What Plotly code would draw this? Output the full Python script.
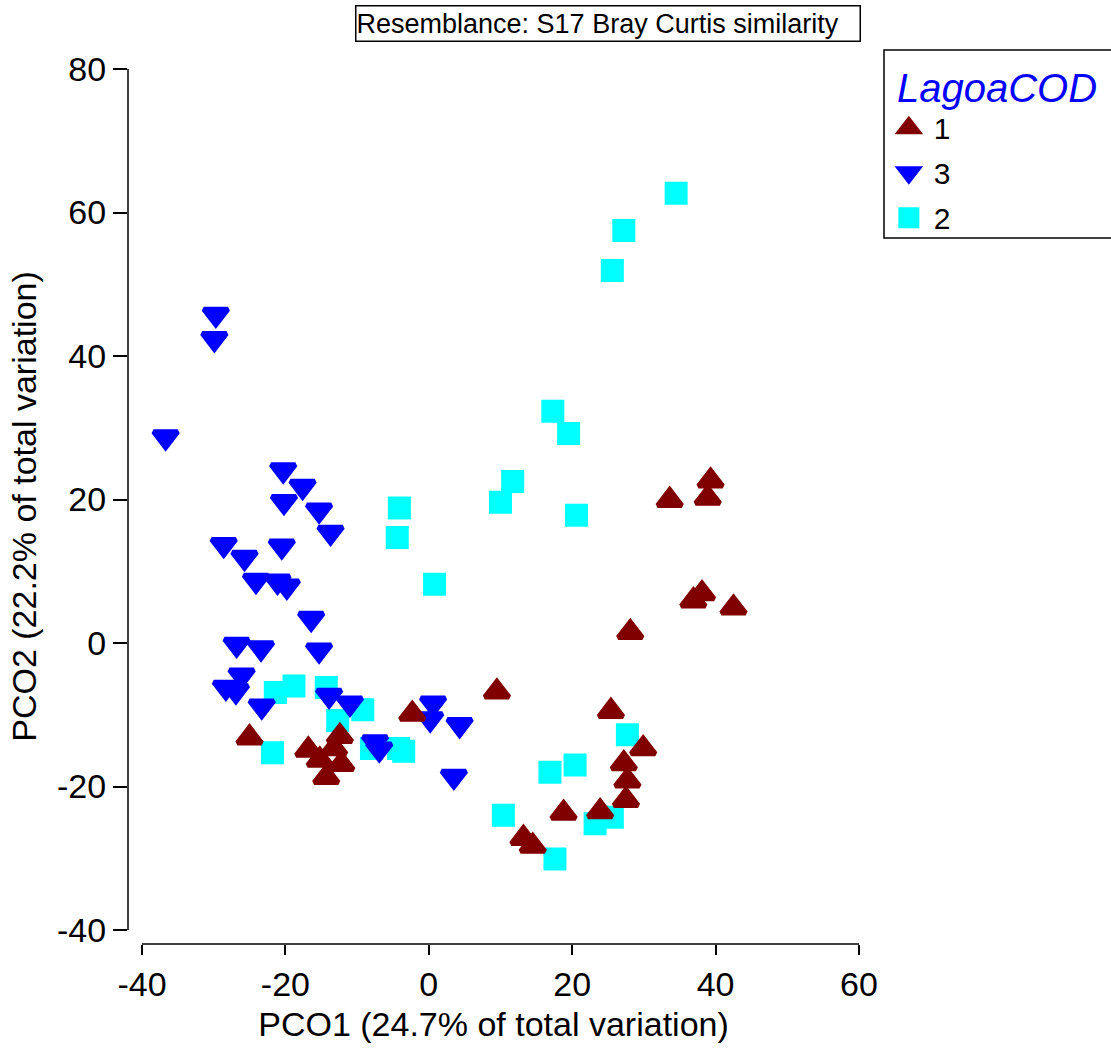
import plotly.graph_objects as go

# PCO ordination scores, grouped by LagoaCOD
g1_x = [-2.3, -25.0, -16.8, -15.2, -13.2, -12.2, -14.3, -12.4, 9.5, 13.2, 14.5, 18.8,
        23.9, 25.4, 27.2, 29.9, 27.7, 27.5, 28.1, 36.9, 38.1, 42.5, 33.6, 39.3, 38.9]
g1_y = [-9.9, -13.2, -14.9, -16.3, -14.7, -16.9, -18.7, -13.0, -6.8, -27.2, -28.3, -23.7,
        -23.5, -9.5, -16.8, -14.7, -19.2, -21.9, 1.5, 5.9, 6.9, 4.9, 19.9, 22.6, 20.2]

g3_x = [-29.7, -29.9, -36.7, -20.3, -17.6, -20.2, -15.3, -13.7, -28.6, -25.7, -20.5, -24.1,
        -21.1, -19.8, -16.4, -26.8, -23.4, -15.3, -26.1, -28.3, -26.9, -23.3, -13.9, -11.0,
        -7.5, -6.9, 0.6, 0.2, 4.3, 3.5]
g3_y = [45.8, 42.4, 28.7, 24.1, 21.8, 19.7, 18.5, 15.4, 13.7, 11.9, 13.5, 8.7,
        8.6, 7.9, 3.4, -0.2, -0.7, -1.0, -4.5, -6.2, -6.7, -8.8, -7.3, -8.4,
        -13.8, -14.8, -8.4, -10.6, -11.4, -18.6]

g2_x = [34.5, 27.2, 25.6, 17.3, 19.5, 11.7, 10.0, 20.6, -4.1, -4.4, 0.8,
        -21.4, -18.8, -14.3, -9.2, -12.7, -21.8, -8.0, -4.2, -3.5,
        27.7, 20.4, 16.9, 10.4, 23.2, 25.6, 17.6]
g2_y = [62.7, 57.5, 51.9, 32.3, 29.2, 22.5, 19.6, 17.8, 18.8, 14.7, 8.2,
        -6.9, -6.0, -6.2, -9.3, -10.8, -15.3, -14.7, -14.7, -15.1,
        -12.8, -17.0, -18.0, -24.0, -25.2, -24.3, -30.1]

x_ticks = [-40, -20, 0, 20, 40, 60]
y_ticks = [-40, -20, 0, 20, 40, 60, 80]

FONT = "Arial, Liberation Sans, sans-serif"

fig = go.Figure()

# symbols get a same-colour outline so the legend swatches stay large
fig.add_trace(go.Scatter(
    x=g2_x, y=g2_y, mode="markers", name="2", legendrank=3, legendgroup="g2",
    marker=dict(symbol="square", size=18, color="#00FFFF", line=dict(width=5, color="#00FFFF")),
    cliponaxis=False))
fig.add_trace(go.Scatter(
    x=g3_x, y=g3_y, mode="markers", name="3", legendrank=2, legendgroup="g3",
    marker=dict(symbol="triangle-down", size=21, color="#0000FF", line=dict(width=5, color="#0000FF")),
    cliponaxis=False))
fig.add_trace(go.Scatter(
    x=g1_x, y=g1_y, mode="markers", name="1", legendrank=1, legendgroup="g1",
    marker=dict(symbol="triangle-up", size=21, color="#800000", line=dict(width=5, color="#800000")),
    cliponaxis=False))

# detached axis lines spanning only the tick range
fig.add_shape(type="line", xref="x", yref="paper", x0=x_ticks[0], x1=x_ticks[-1], y0=0, y1=0,
              line=dict(color="black", width=1.5))
fig.add_shape(type="line", xref="paper", yref="y", x0=0, x1=0, y0=y_ticks[0], y1=y_ticks[-1],
              line=dict(color="black", width=1.5))

# legend frame, open to the right edge of the page
fig.add_shape(type="rect", xref="paper", yref="paper",
              x0=1.0342, x1=1.36, y0=0.8069, y1=1.0217,
              line=dict(color="black", width=1.5), fillcolor="rgba(0,0,0,0)")

fig.add_annotation(
    text="Resemblance: S17 Bray Curtis similarity", xref="paper", yref="paper",
    x=0.657, y=1.052, xanchor="center", yanchor="middle", showarrow=False, align="left",
    font=dict(family=FONT, size=27, color="black"),
    bordercolor="black", borderwidth=1.5, borderpad=0, width=503, height=34,
    bgcolor="white")

fig.update_layout(
    width=1111, height=1048, autosize=False,
    margin=dict(l=128, r=252, t=69, b=104, autoexpand=False),
    plot_bgcolor="white", paper_bgcolor="white",
    font=dict(family=FONT, color="black"),
    showlegend=True,
    legend=dict(
        x=1.034, y=1.022, xanchor="left", yanchor="top",
        title=dict(text="&nbsp;<i>LagoaCOD</i>", font=dict(family=FONT, size=40, color="#0000FF")),
        font=dict(family=FONT, size=30, color="black"),
        borderwidth=0, bgcolor="rgba(0,0,0,0)",
        tracegroupgap=3, itemsizing="trace", itemwidth=40),
    xaxis=dict(
        range=[-41.95, 60], tickvals=x_ticks, ticktext=[str(v) for v in x_ticks],
        showgrid=False, zeroline=False,
        showline=False, ticks="outside", ticklen=10, tickwidth=1.5, tickcolor="black",
        tickfont=dict(family=FONT, size=34),
        title=dict(text="PCO1 (24.7% of total variation)", font=dict(family=FONT, size=34),
                   standoff=10)),
    yaxis=dict(
        range=[-41.95, 80], tickvals=y_ticks, ticktext=[str(v) for v in y_ticks],
        showgrid=False, zeroline=False,
        showline=False, ticks="outside", ticklen=14, tickwidth=1.5, tickcolor="black",
        tickfont=dict(family=FONT, size=34),
        title=dict(text="PCO2 (22.2% of total variation)", font=dict(family=FONT, size=34),
                   standoff=10)),
)

fig.write_html("out.html")
